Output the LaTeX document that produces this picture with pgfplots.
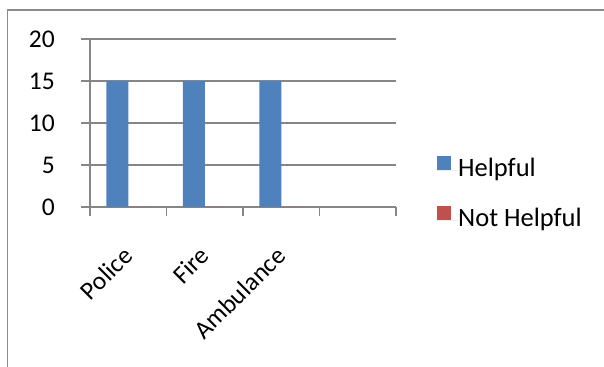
\documentclass[border=0pt]{standalone}
\usepackage{fontspec}
\setmainfont{Carlito}
\usepackage{pgfplots}
\pgfplotsset{compat=1.18}

\definecolor{xlblue}{RGB}{79,129,189}
\definecolor{xlred}{RGB}{192,80,77}
\definecolor{xlgrid}{RGB}{134,134,134}
\definecolor{xlframe}{RGB}{140,140,140}

\begin{document}
\begin{tikzpicture}
  \useasboundingbox (0,0) rectangle (604bp,-367bp);
  % chart frame
  \draw[xlframe, line width=1.5bp] (7.5bp,-367bp) -- (7.5bp,-10bp) -- (604bp,-10bp);
  \begin{axis}[
    at={(90bp,-207bp)}, anchor=south west,
    scale only axis, width=306bp, height=168bp,
    xmin=0, xmax=4, ymin=0, ymax=20,
    axis x line*=bottom, axis y line*=left,
    axis line style={xlgrid, line width=1.3bp},
    ytick={0,5,10,15,20},
    xtick={0,1,2,3,4}, xticklabels={},
    extra x ticks={0.5,1.5,2.5},
    extra x tick labels={Police,Fire,Ambulance},
    extra x tick style={major tick length=0pt, grid=none},
    ymajorgrids, grid style={xlgrid, line width=1.3bp},
    tick align=outside, major tick length=9bp,
    tick style={xlgrid, line width=1.3bp},
    font=\fontsize{25.5bp}{30bp}\selectfont,
    /pgf/number format/assume math mode=true,
    yticklabel style={inner sep=0pt, anchor=east, xshift=-26bp},
    xticklabel style={inner sep=0pt, xshift=-6.6bp, yshift=-38bp, rotate=45, anchor=north east},
    ybar, bar width=0.286,
    legend style={at={(1.134,0.3077)}, anchor=north west, draw=none, fill=none,
      inner sep=0pt, row sep=22.7bp,
      nodes={inner sep=0pt, text height=18bp, text depth=7bp},
      font=\fontsize{26.5bp}{30bp}\selectfont},
    legend cell align=left,
    legend image code/.code={%
      \path (0bp,0bp) -- (21bp,0bp);
      \fill[#1, draw=none] (0bp,1bp) rectangle (14bp,15bp);},
  ]
    \addplot[fill=xlblue, draw=none, bar shift=-0.143] coordinates {(0.5,15) (1.5,15) (2.5,15)};
    \addplot[fill=xlred, draw=none, bar shift=0.143] coordinates {(0.5,0) (1.5,0) (2.5,0)};
    \legend{Helpful, Not Helpful}
  \end{axis}
\end{tikzpicture}
\end{document}
